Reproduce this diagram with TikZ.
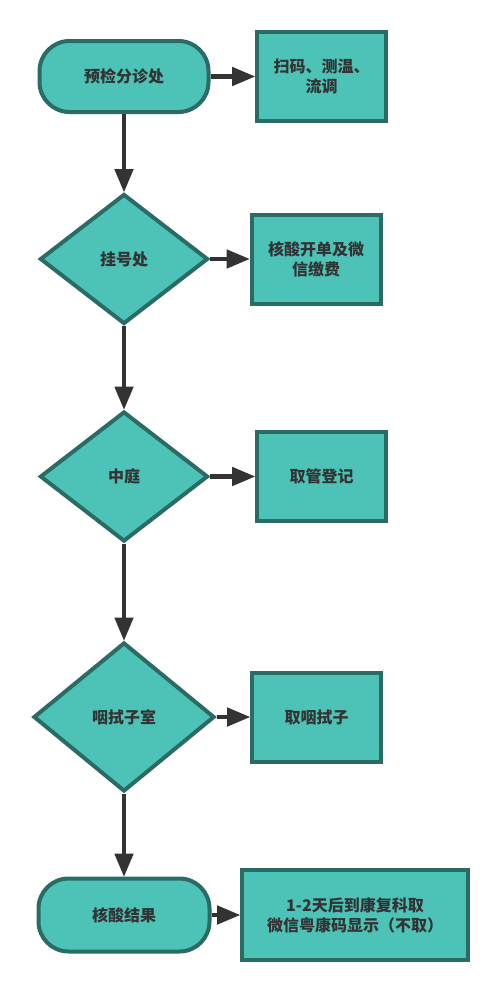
\documentclass[tikz,border=0pt]{standalone}
\usepackage{fontspec}
\setmainfont{Noto Sans CJK SC}
\usepackage{tikz}
\usetikzlibrary{arrows,shapes.geometric}
\definecolor{teal400}{HTML}{4DC3B8}
\definecolor{teal800}{HTML}{2A6B63}
\definecolor{gray800}{HTML}{333333}
\tikzstyle{terminal}=[rectangle, rounded corners=30pt, draw=teal800, fill=teal400, line width=4pt, minimum width=169pt, minimum height=71pt, text=gray800, font=\fontsize{16pt}{20pt}\selectfont\bfseries]
\tikzstyle{decision}=[diamond, draw=teal800, fill=teal400, line width=4pt, inner sep=0pt, minimum width=168pt, minimum height=130pt, aspect=1.29, text=gray800, font=\fontsize{16pt}{20pt}\selectfont\bfseries]
\tikzstyle{process}=[rectangle, draw=teal800, fill=teal400, line width=4pt, minimum width=129pt, minimum height=89pt, align=center, text=gray800, font=\fontsize{16pt}{20pt}\selectfont\bfseries]

\begin{document}
\begin{tikzpicture}[x=1pt, y=-1pt, ->, >=triangle 45, line width=4.5pt, gray800]
				\useasboundingbox (0,0) rectangle (500,993);
				\node[terminal] (yujian) at (124,76.5) {预检分诊处};
				\node[process] (saoma) at (321.5,76.5) {扫码、测温、\\流调};
				\node[decision] (guahao) at (124,259) {挂号处};
				\node[process] (kaidan) at (316,259) {核酸开单及微\\信缴费};
				\node[decision] (zhongting) at (124,476.5) {中庭};
				\node[process] (quguan) at (321.5,476.5) {取管登记};
				\node[decision, minimum width=181pt, minimum height=149pt, aspect=1.21] (yanshi) at (124,717) {咽拭子室};
				\node[process] (quyan) at (316.5,717) {取咽拭子};
				\node[terminal, minimum width=171pt, minimum height=73pt] (jieguo) at (124,915) {核酸结果};
				\node[process, minimum width=226pt, minimum height=90pt] (kangfu) at (355,915) {1-2天后到康复科取\\微信粤康码显示（不取）};
				\draw (yujian)--(guahao);
				\draw (guahao)--(zhongting);
				\draw (zhongting)--(yanshi);
				\draw (yanshi)--(jieguo);
				\draw (yujian)--(saoma);
				\draw (guahao)--(kaidan);
				\draw (zhongting)--(quguan);
				\draw (yanshi)--(quyan);
				\draw (jieguo)--(kangfu);
			\end{tikzpicture}
\end{document}
